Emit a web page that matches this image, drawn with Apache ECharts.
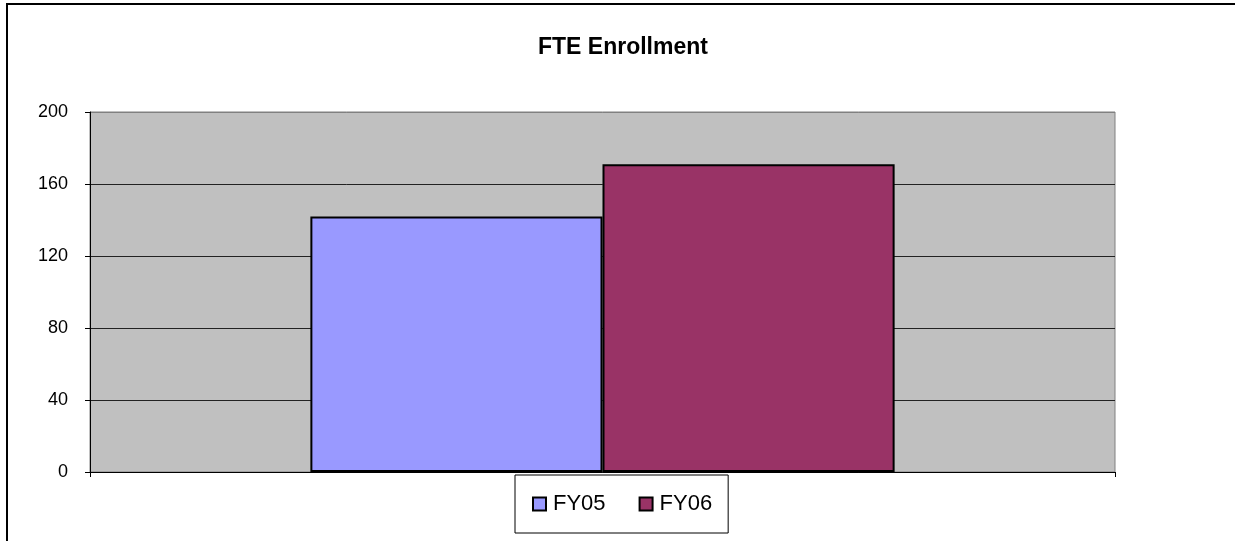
<!DOCTYPE html>
<html>
<head>
<meta charset="utf-8">
<script src="https://cdn.jsdelivr.net/npm/echarts@6/dist/echarts.min.js"></script>
<style>
    html, body { margin: 0; padding: 0; background: #fff; }
    #chart { width: 1235px; height: 541px; }
</style>
</head>
<body>
<div id="chart"></div>
<script>
// values
const categories = [""]
const seriesNames = ["FY05", "FY06"]
const fy05 = [142]
const fy06 = [171]
const yTicks = { min: 0, max: 200, interval: 40 }

const font = "Liberation Sans"

const chart = echarts.init(document.getElementById("chart"))

const barStyle = (color) => ({
    color: color,
    borderColor: "#000",
    borderWidth: 2,
})

chart.setOption({
    animation: false,
    backgroundColor: "#fff",
    textStyle: { fontFamily: font },
    title: {
        text: "FTE Enrollment",
        left: 533,
        top: 31,
        textStyle: {
            fontFamily: font,
            fontSize: 23,
            fontWeight: "bold",
            color: "#000",
        },
    },
    legend: {
        data: seriesNames,
        left: 515,
        top: 475,
        orient: "horizontal",
        icon: "rect",
        itemWidth: 13,
        itemHeight: 13,
        itemGap: 33,
        padding: [18, 16, 18, 17],
        backgroundColor: "#fff",
        borderColor: "#000",
        borderWidth: 1,
        borderRadius: 0,
        textStyle: { fontFamily: font, fontSize: 22, color: "#000", padding: [0, 0, 0, 2] },
        itemStyle: { borderColor: "#000", borderWidth: 2 },
    },
    grid: {
        left: 90,
        top: 112,
        width: 1025,
        height: 360,
        show: true,
        backgroundColor: "#C0C0C0",
        borderColor: "#808080",
        borderWidth: 1,
    },
    graphic: [
        {
            type: "rect",
            shape: { x: 7, y: 4, width: 1300, height: 600 },
            style: { fill: null, stroke: "#000", lineWidth: 2 },
            z: 100,
        },
    ],
    xAxis: {
        type: "category",
        data: categories,
        axisLine: { show: true, lineStyle: { color: "#000", width: 1 } },
        axisTick: { show: true, length: 5, lineStyle: { color: "#000" } },
        axisLabel: { show: false },
        splitLine: { show: false },
    },
    yAxis: {
        type: "value",
        min: yTicks.min,
        max: yTicks.max,
        interval: yTicks.interval,
        axisLine: { show: true, lineStyle: { color: "#000", width: 1 } },
        axisTick: { show: true, length: 5, lineStyle: { color: "#000" } },
        axisLabel: { fontFamily: font, fontSize: 18, color: "#000", margin: 22 },
        splitLine: {
            show: true,
            lineStyle: {
                // top line matches the gray plot border
                color: ["#222", "#222", "#222", "#222", "#222", "#808080"],
                width: 1,
            },
        },
    },
    series: [
        {
            name: seriesNames[0],
            type: "bar",
            data: fy05,
            barWidth: "28.5%",
            barGap: "0%",
            itemStyle: barStyle("#9999FF"),
        },
        {
            name: seriesNames[1],
            type: "bar",
            data: fy06,
            barWidth: "28.5%",
            barGap: "0%",
            itemStyle: barStyle("#993366"),
        },
    ],
})

window.addEventListener("resize", () => chart.resize())
</script>
</body>
</html>
